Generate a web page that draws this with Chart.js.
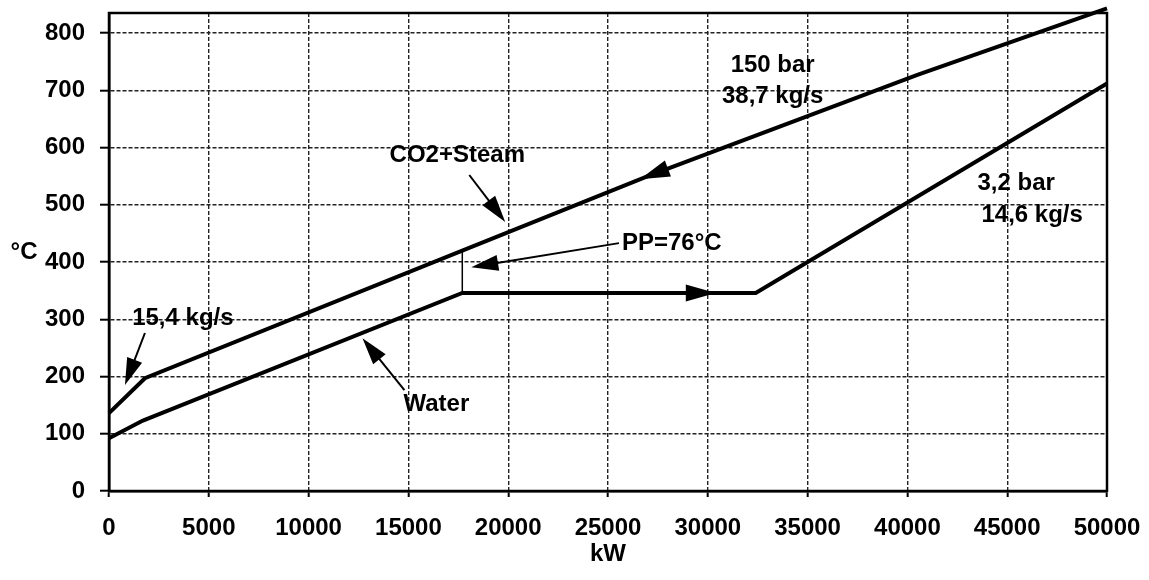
<!DOCTYPE html>
<html>
<head>
<meta charset="utf-8">
<script src="https://cdn.jsdelivr.net/npm/chart.js@4/dist/chart.umd.min.js"></script>
<style>
  html, body { margin: 0; padding: 0; background: #fff; }
  canvas { display: block; }
</style>
</head>
<body>
<canvas id="chart" width="1149" height="580"></canvas>
<script>
// axis ticks
const xTicks = [0, 5000, 10000, 15000, 20000, 25000, 30000, 35000, 40000, 45000, 50000];
const yTicks = [0, 100, 200, 300, 400, 500, 600, 700, 800];

// hot side: CO2 + steam (kW, °C)
const steamKw = [0, 1800, 17700, 27000, 40500, 50000];
const steamC = [136, 197, 420, 550, 727, 843];

// cold side: water (kW, °C)
const waterKw = [0, 1700, 17700, 32400, 50000];
const waterC = [92, 123, 346, 346, 712];

// text labels (kW, °C)
const noteText = ['15,4 kg/s', 'CO2+Steam', 'PP=76°C', 'Water', '150 bar', '38,7 kg/s', '3,2 bar', '14,6 kg/s'];
const noteKw = [3700, 17450, 25700, 16400, 33250, 33250, 45450, 46250];
const noteC = [302, 587, 433, 152, 744, 690, 538, 482];
const noteAlign = ['center', 'center', 'left', 'center', 'center', 'center', 'center', 'center'];

// pointer arrows: from label to line (kW, °C)
const pointerFrom = [[1800, 276], [18050, 552], [25550, 433], [14800, 176]];
const pointerTo = [[800, 185], [19850, 470], [18150, 391], [12700, 267]];

// flow direction heads on the lines
const flowSeries = ['steam', 'water'];
const flowKw = [26600, 30400];
const flowDir = [-1, 1];

const FAMILY = '"Liberation Sans", Arial, sans-serif';
const FONT = 'bold 24px ' + FAMILY;

const toPts = (xs, ys) => xs.map((x, i) => ({ x, y: ys[i] }));

function interp(xs, ys, x) {
    for (let i = 1; i < xs.length; i++) {
        if (x <= xs[i]) {
            const t = (x - xs[i - 1]) / (xs[i] - xs[i - 1]);
            return ys[i - 1] + t * (ys[i] - ys[i - 1]);
        }
    }
    return ys[ys.length - 1];
}

function arrowHead(ctx, x, y, ang, len, half) {
    ctx.beginPath();
    ctx.moveTo(x, y);
    ctx.lineTo(x - len * Math.cos(ang) + half * Math.sin(ang), y - len * Math.sin(ang) - half * Math.cos(ang));
    ctx.lineTo(x - len * Math.cos(ang) - half * Math.sin(ang), y - len * Math.sin(ang) + half * Math.cos(ang));
    ctx.closePath();
    ctx.fill();
}

const frameAndNotes = {
    id: 'frameAndNotes',
    beforeDatasetsDraw(chart) {
        const { ctx, chartArea: a } = chart;
        ctx.save();
        ctx.strokeStyle = '#000';
        ctx.lineWidth = 2.5;
        ctx.strokeRect(a.left, a.top, a.right - a.left, a.bottom - a.top);
        ctx.restore();
    },
    afterDatasetsDraw(chart) {
        const { ctx, scales: { x, y }, chartArea: a } = chart;
        const px = v => x.getPixelForValue(v);
        const py = v => y.getPixelForValue(v);
        ctx.save();
        ctx.fillStyle = '#000';
        ctx.strokeStyle = '#000';

        // pinch point marker
        ctx.lineWidth = 1.5;
        ctx.beginPath();
        ctx.moveTo(px(17700), py(interp(steamKw, steamC, 17700)));
        ctx.lineTo(px(17700), py(interp(waterKw, waterC, 17700)));
        ctx.stroke();

        // pointers
        ctx.lineWidth = 2;
        pointerFrom.forEach((f, i) => {
            const t = pointerTo[i];
            const x1 = px(f[0]), y1 = py(f[1]), x2 = px(t[0]), y2 = py(t[1]);
            const ang = Math.atan2(y2 - y1, x2 - x1);
            ctx.beginPath();
            ctx.moveTo(x1, y1);
            ctx.lineTo(x2 - 20 * Math.cos(ang), y2 - 20 * Math.sin(ang));
            ctx.stroke();
            arrowHead(ctx, x2, y2, ang, 27, 8);
        });

        // flow direction heads
        flowSeries.forEach((s, i) => {
            const xs = s === 'steam' ? steamKw : waterKw;
            const ys = s === 'steam' ? steamC : waterC;
            const k = flowKw[i];
            const k0 = k - flowDir[i] * 1000;
            const x2 = px(k), y2 = py(interp(xs, ys, k));
            const x1 = px(k0), y1 = py(interp(xs, ys, k0));
            arrowHead(ctx, x2, y2, Math.atan2(y2 - y1, x2 - x1), 30, 8.5);
        });

        // texts
        ctx.font = FONT;
        ctx.textBaseline = 'middle';
        noteText.forEach((t, i) => {
            ctx.textAlign = noteAlign[i];
            ctx.fillText(t, px(noteKw[i]), py(noteC[i]));
        });

        // y axis unit
        ctx.textAlign = 'center';
        ctx.fillText('°C', a.left - 85, py(417));
        ctx.restore();
    }
};

const gridStyle = { color: '#222', lineWidth: 1.4, tickLength: 9, tickColor: '#000', tickWidth: 2 };
const tickFont = { family: FAMILY, size: 24, weight: 'bold' };

new Chart(document.getElementById('chart'), {
    type: 'scatter',
    data: {
        datasets: [
            { label: 'CO2+Steam', data: toPts(steamKw, steamC) },
            { label: 'Water', data: toPts(waterKw, waterC) }
        ].map(ds => ({
            ...ds,
            showLine: true,
            borderColor: '#000',
            backgroundColor: '#000',
            borderWidth: 4,
            pointRadius: 0,
            tension: 0,
            clip: false
        }))
    },
    options: {
        responsive: false,
        animation: false,
        events: [],
        layout: { padding: { top: 13, right: 42, left: 0, bottom: 0 } },
        plugins: { legend: { display: false }, tooltip: { enabled: false } },
        scales: {
            x: {
                type: 'linear',
                min: 0,
                max: 50000,
                afterBuildTicks: s => { s.ticks = xTicks.map(v => ({ value: v })); },
                afterFit: s => { s.height = 89; s.paddingLeft = 0; s.paddingRight = 0; },
                grid: { ...gridStyle, tickLength: 6 },
                border: { display: true, color: '#000', width: 2.5, dash: [4, 2] },
                ticks: { color: '#000', font: tickFont, padding: 17, maxRotation: 0, callback: v => String(v) },
                title: { display: true, text: 'kW', color: '#000', font: tickFont, padding: { top: 0, bottom: 11 } }
            },
            y: {
                type: 'linear',
                min: 0,
                max: 835,
                afterBuildTicks: s => { s.ticks = yTicks.map(v => ({ value: v })); },
                afterFit: s => { s.width = 109; s.paddingTop = 0; s.paddingBottom = 0; },
                grid: gridStyle,
                border: { display: true, color: '#000', width: 2.5, dash: [4, 2] },
                ticks: { color: '#000', font: tickFont, padding: 15, callback: v => String(v) }
            }
        }
    },
    plugins: [frameAndNotes]
});
</script>
</body>
</html>
